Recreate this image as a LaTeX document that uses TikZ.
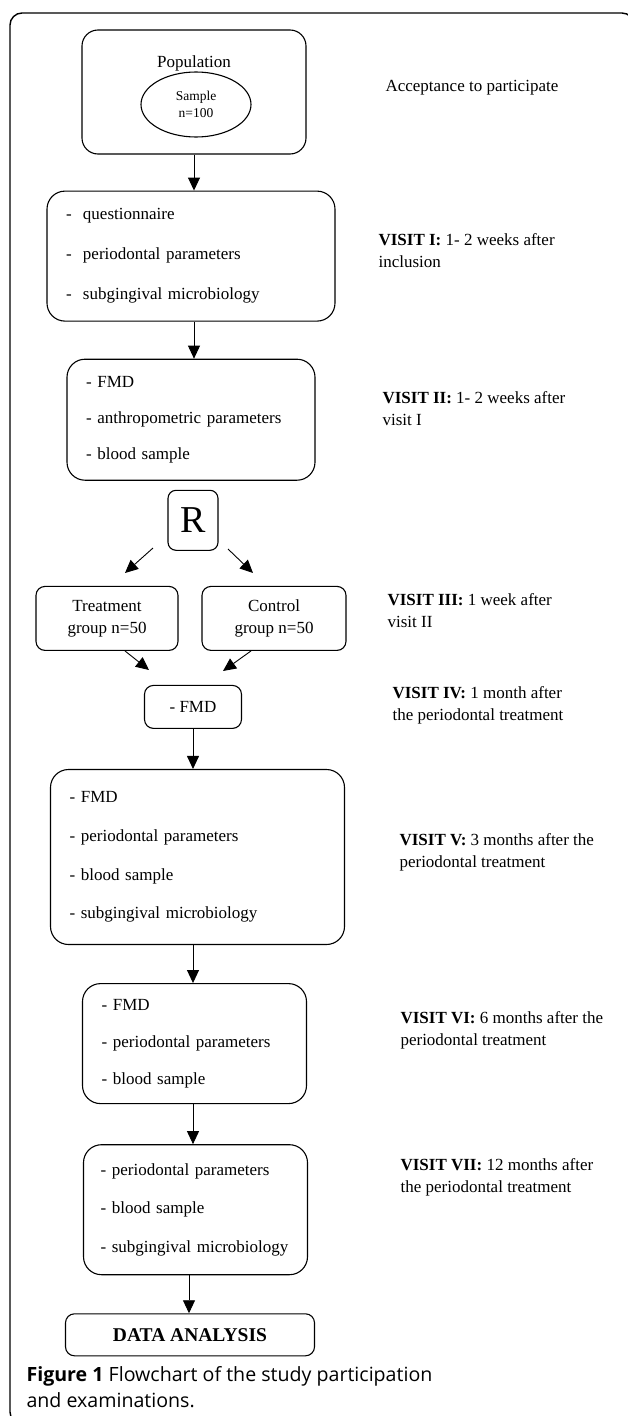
\documentclass[tikz,border=0pt]{standalone}
\usepackage{fontspec}
\setmainfont{Liberation Serif}
\newfontfamily\capfont{Open Sans}
\usetikzlibrary{positioning, shapes.geometric, arrows.meta}
\hyphenpenalty=10000

\begin{document}
\begin{tikzpicture}[x=1pt, y=-1pt,
	line width=1.1pt,
	font=\fontsize{17}{22}\selectfont,
	stage/.style={draw, rounded corners=18pt, align=left, inner xsep=19pt, inner ysep=0pt},
	smallbox/.style={draw, rounded corners=9pt, align=center, inner sep=0pt},
	visit/.style={anchor=west, align=left, inner sep=0pt},
	flow/.style={-{Triangle[length=13pt, width=12pt]}, line width=0.9pt},
	]
	\useasboundingbox (0,0) rectangle (628,1416);
	\begin{scope}
		\clip (0,0) rectangle (628,1416);
		\draw[line width=1.4pt, rounded corners=12pt] (10,13) rectangle (634,1424);
	\end{scope}

	% population and sample
	\node[draw, rounded corners=16pt, minimum width=224pt, minimum height=124pt] (pop) at (194,92) {};
	\node (poptxt) at (194,63) {Population};
	\node[draw, ellipse, minimum width=110pt, minimum height=65pt, inner sep=0pt, align=center,
		font=\fontsize{13.5}{17.5}\selectfont] (sample) at (196,104.5) {Sample\\n=100};
	\node[visit] (accept) at (385,88) {Acceptance to participate};

	% visits I and II
	\node[stage, text width=250pt, minimum height=130pt, font=\fontsize{17}{40}\selectfont,
		below=36pt of pop.south, xshift=-3pt] (visit1)
		{-~~questionnaire\\-~~periodontal parameters\\-~~subgingival microbiology};
	\node[stage, text width=210pt, minimum height=121pt, font=\fontsize{17}{36}\selectfont,
		below=37pt of visit1] (visit2)
		{- FMD\\- anthropometric parameters\\- blood sample};

	% randomisation
	\node[smallbox, rounded corners=8pt, minimum width=50pt, minimum height=60pt,
		font=\fontsize{38}{40}\selectfont, below=9pt of visit2, xshift=2pt] (rand) {R};
	\node[smallbox, minimum width=142pt, minimum height=64pt, below=35pt of rand, xshift=-86pt] (treat)
		{Treatment\\group n=50};
	\node[smallbox, minimum width=144pt, minimum height=64pt, below=35pt of rand, xshift=81pt] (control)
		{Control\\group n=50};
	\node[smallbox, minimum width=97pt, minimum height=43pt, below=134pt of rand] (fmd) {- FMD};

	% follow up
	\node[stage, text width=256pt, minimum height=175pt, font=\fontsize{17}{38.7}\selectfont,
		below=40pt of fmd, xshift=4.5pt] (visit5)
		{- FMD\\- periodontal parameters\\- blood sample\\- subgingival microbiology};
	\node[stage, text width=186pt, minimum height=120pt, font=\fontsize{17}{37}\selectfont,
		below=38pt of visit5, xshift=-3pt] (visit6)
		{- FMD\\- periodontal parameters\\- blood sample};
	\node[stage, inner xsep=17pt, text width=190pt, minimum height=130pt,
		font=\fontsize{17}{38.5}\selectfont,
		below=40pt of visit6, xshift=1pt] (visit7)
		{- periodontal parameters\\- blood sample\\- subgingival microbiology};
	\node[smallbox, minimum width=249pt, minimum height=42pt, font=\fontsize{19.5}{22}\selectfont\bfseries,
		below=38pt of visit7, xshift=-5.5pt] (data) {DATA ANALYSIS};

	% visit notes
	\node[visit] (note1) at (378,251) {\textbf{VISIT I:} 1- 2 weeks after\\inclusion};
	\node[visit] (note2) at (382,409) {\textbf{VISIT II:} 1- 2 weeks after\\visit I};
	\node[visit] (note3) at (387,611) {\textbf{VISIT III:} 1 week after\\visit II};
	\node[visit] (note4) at (392,705.5) {\textbf{VISIT IV:} 1 month after\\the periodontal treatment};
	\node[visit] (note5) at (399,852) {\textbf{VISIT V:} 3 months after the\\periodontal treatment};
	\node[visit] (note6) at (400,1030.5) {\textbf{VISIT VI:} 6 months after the\\periodontal treatment};
	\node[visit] (note7) at (400,1177) {\textbf{VISIT VII:} 12 months after\\the periodontal treatment};

	% loose arrow ends
	\coordinate (rl1) at (153,548);
	\coordinate (rl2) at (125,573);
	\coordinate (rr1) at (228,549);
	\coordinate (rr2) at (253,573);
	\coordinate (tl) at (149,670);
	\coordinate (cr) at (223,671);

	\draw[flow] (pop.south) -- (pop.south |- visit1.north);
	\draw[flow] (pop.south |- visit1.south) -- (pop.south |- visit2.north);
	\draw[flow] (rl1) -- (rl2);
	\draw[flow] (rr1) -- (rr2);
	\draw[flow] ([xshift=18pt]treat.south) -- (tl);
	\draw[flow] ([xshift=-23pt]control.south) -- (cr);
	\draw[flow] (fmd.south) -- (fmd.south |- visit5.north);
	\draw[flow] (fmd.south |- visit5.south) -- (fmd.south |- visit6.north);
	\draw[flow] (fmd.south |- visit6.south) -- (fmd.south |- visit7.north);
	\draw[flow] ([xshift=-4pt]fmd.south |- visit7.south) -- ([xshift=-4pt]fmd.south |- data.north);

	% caption
	\node[visit, font=\capfont\fontsize{19.6}{26}\selectfont] (caption) at (26,1387)
		{\textbf{Figure 1} Flowchart of the study participation\\and examinations.};
\end{tikzpicture}
\end{document}
